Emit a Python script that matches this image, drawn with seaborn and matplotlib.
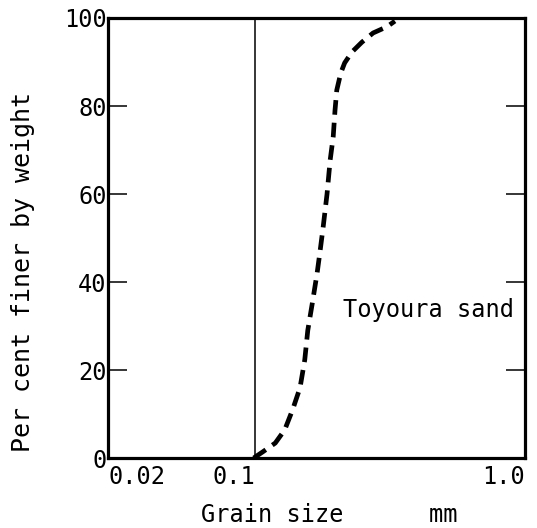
import matplotlib
matplotlib.use("Agg")
import matplotlib.pyplot as plt
import matplotlib.ticker as mticker
import seaborn as sns
import pandas as pd

# Data
grain_size_mm = [0.099, 0.107, 0.119, 0.129, 0.138, 0.147, 0.153, 0.157,
                 0.163, 0.170, 0.174, 0.179, 0.185, 0.190, 0.195, 0.198,
                 0.201, 0.208, 0.215, 0.229, 0.249, 0.274, 0.308, 0.330]
percent_finer = [0.0, 1.4, 3.4, 6.4, 11.0, 16.0, 22.3, 29.0,
                 35.0, 42.0, 46.6, 52.5, 60.0, 67.7, 73.0, 79.0,
                 83.6, 87.5, 89.8, 92.3, 94.5, 96.6, 98.0, 99.3]
x_tick_values = [0.0286, 0.1, 1.0]
x_tick_labels = ["0.02", "0.1", "1.0"]
y_tick_values = [0, 20, 40, 60, 80, 100]
reference_line_x = 0.1
curve_label = "Toyoura sand"

df = pd.DataFrame({"size": grain_size_mm, "pct": percent_finer})

sns.set_style("ticks")
plt.rcParams["font.family"] = ["DejaVu Sans Mono", "DejaVu Sans"]
for k in ["text.color", "axes.labelcolor", "xtick.color", "ytick.color",
          "axes.edgecolor"]:
    plt.rcParams[k] = "black"

fig = plt.figure(figsize=(5.37, 5.28), dpi=100)
ax = fig.add_axes([108 / 537, 1 - 458 / 528, 417 / 537, 440 / 528])

ax.set_xscale("log")
sns.lineplot(data=df, x="size", y="pct", ax=ax, color="black",
             linewidth=3.4, estimator=None, sort=True)
ax.lines[0].set_dashes((3.1, 1.7))

ax.axvline(reference_line_x, color="black", linewidth=1.1)

ax.set_xlim(x_tick_values[0], x_tick_values[-1])
ax.set_ylim(0, 100)

ax.xaxis.set_major_locator(mticker.FixedLocator(x_tick_values))
ax.xaxis.set_minor_locator(mticker.NullLocator())
ax.set_xticklabels(x_tick_labels, fontsize=17)
ax.tick_params(axis="x", length=0, pad=5)
labs = ax.get_xticklabels()
labs[0].set_ha("left")
labs[1].set_ha("right")
labs[2].set_ha("right")

ax.set_yticks(y_tick_values)
ax.set_yticklabels([str(v) for v in y_tick_values], fontsize=17)
ax.tick_params(axis="y", direction="in", length=14, width=1.1,
               right=True, left=True, pad=1)

for s in ax.spines.values():
    s.set_linewidth(2.3)
    s.set_color("black")

ax.set_ylabel("Per cent finer by weight", fontsize=18)
ax.yaxis.set_label_coords(-0.175, 0.423)
ax.set_xlabel("Grain size      mm", fontsize=17)
ax.xaxis.set_label_coords(0.53, -0.103)

ax.text(0.212, 33.6, curve_label, fontsize=17, va="center", ha="left")

fig.savefig("out.png", dpi=100, facecolor="white")
